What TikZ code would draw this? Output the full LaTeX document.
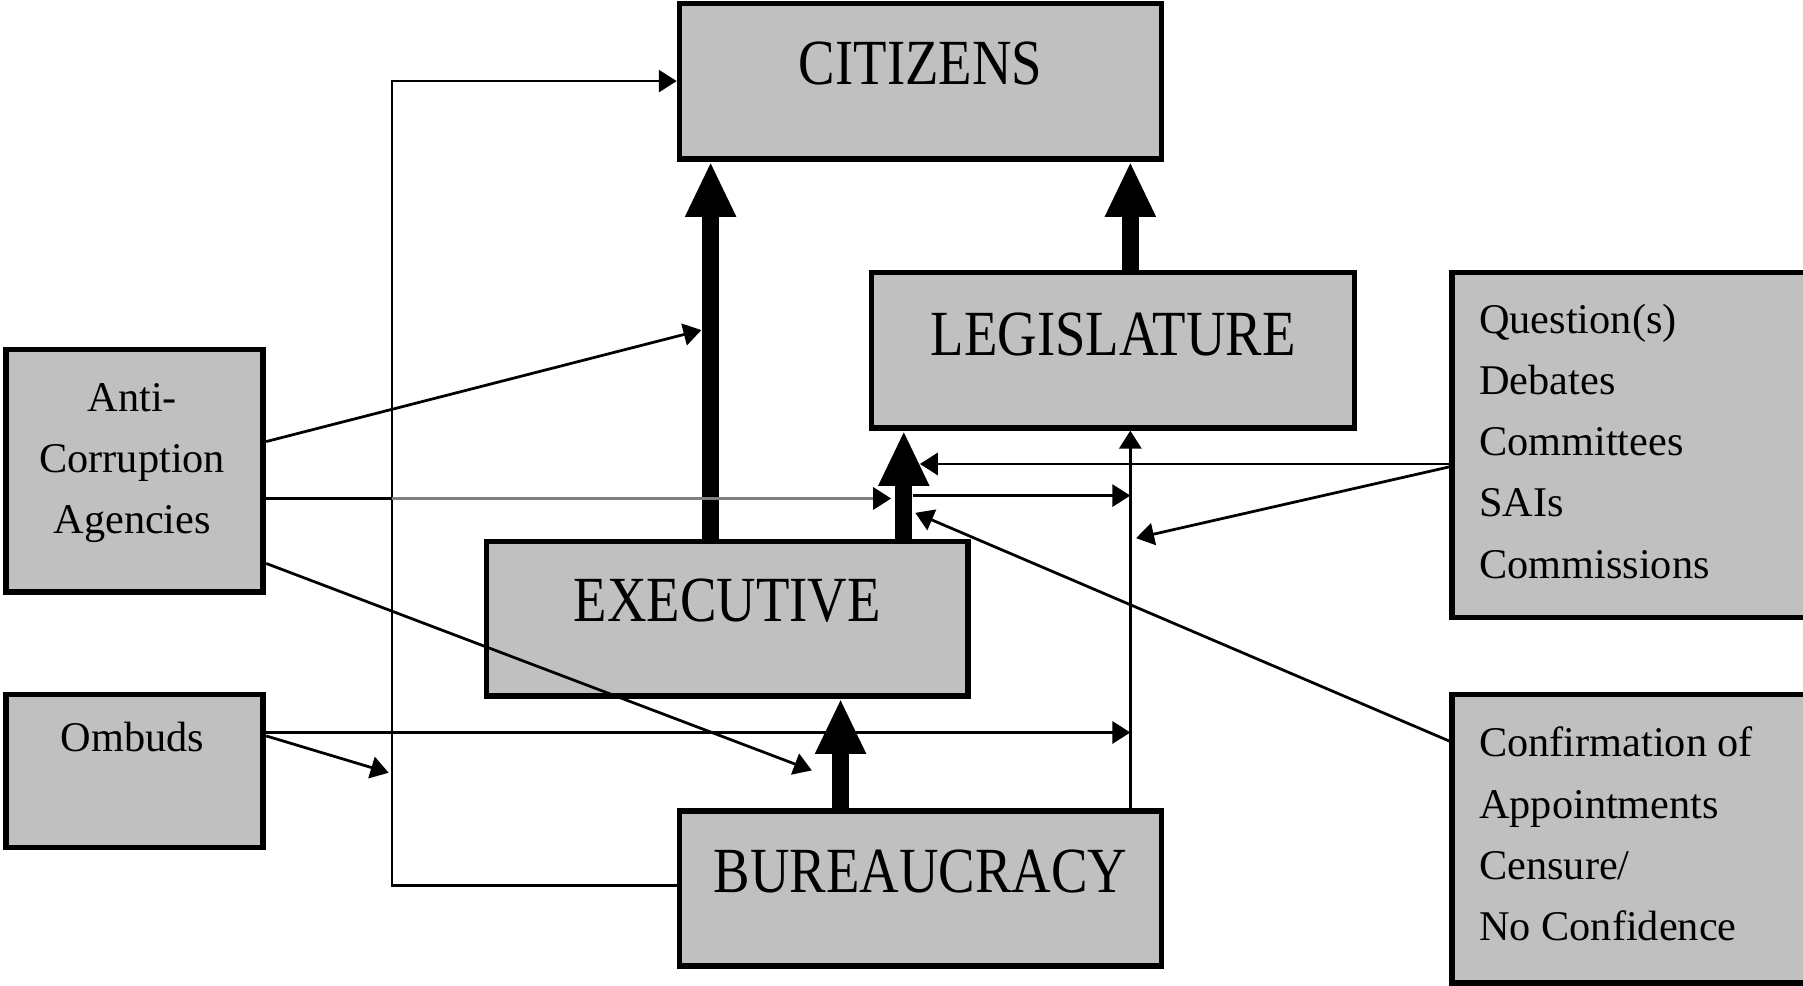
\documentclass[tikz,border=0pt]{standalone}
\usepackage{fontspec}
\setmainfont{Liberation Serif}
\newfontfamily\narrowfont[FakeStretch=0.85]{Liberation Serif}
\usetikzlibrary{arrows.meta,calc}
\definecolor{boxgray}{HTML}{C0C0C0}
\definecolor{linegray}{HTML}{808080}
\begin{document}
\begin{tikzpicture}[x=0.5pt,y=-0.5pt,
  box/.style={draw=black, line width=2.5pt, fill=boxgray, inner sep=0pt},
  bigtxt/.style={font=\narrowfont\fontsize{28}{30}\selectfont, inner sep=0pt},
  smalltxt/.style={font=\fontsize{18.4}{26.6}\selectfont, inner sep=0pt},
  thinline/.style={line width=1.2pt},
  thinarrow/.style={line width=1.2pt, -{Triangle[length=7.8pt,width=9.6pt]}},
  grayarrow/.style={line width=1.2pt, draw=linegray, -{Triangle[length=7.8pt,width=9.6pt,color=black]}},
  thickarrow/.style={line width=7.4pt, -{Triangle[length=24pt,width=20.4pt]}},
]
\fill[white] (0,0) rectangle (1568,857);
\clip (0,0) rectangle (1568,857);

% main boxes
\node[box, minimum width=209.5pt, minimum height=67.5pt] (cit) at (800.5,70.5) {};
\node[box, minimum width=210pt, minimum height=67.5pt] (leg) at (968,304.5) {};
\node[box, minimum width=209.5pt, minimum height=67pt] (exec) at (632.5,538) {};
\node[box, minimum width=209.5pt, minimum height=67.5pt] (bur) at (800.5,772.5) {};
\node[bigtxt] (citt) at ([yshift=7.75pt]cit.center) {CITIZENS};
\node[bigtxt] (legt) at ([yshift=7pt]leg.center) {LEGISLATURE};
\node[bigtxt] (exect) at ([yshift=8pt]exec.center) {EXECUTIVE};
\node[bigtxt] (burt) at ([yshift=7.5pt]bur.center) {BUREAUCRACY};

% side boxes
\node[box, minimum width=112pt, minimum height=105.5pt] (aca) at (117,409.5) {};
\node[box, minimum width=112pt, minimum height=66.5pt] (omb) at (117,670.5) {};
\node[box, minimum width=193.5pt, minimum height=150pt] (qbox) at (1456.5,387) {};
\node[box, minimum width=193.5pt, minimum height=125.5pt] (cbox) at (1456.5,729.5) {};
\node[smalltxt, anchor=north, align=center] (acat) at (115,333) {Anti-\\Corruption\\Agencies};
\node[smalltxt, anchor=north] (ombt) at (115,628) {Ombuds};
\node[smalltxt, anchor=north west, align=left] (qt) at (1286,264) {Question(s)\\Debates\\Committees\\SAIs\\Commissions};
\node[smalltxt, anchor=north west, align=left] (ct) at (1286,632) {Confirmation of\\Appointments\\Censure/\\No Confidence};

% helper coordinates
\coordinate (vl) at (341,770);
\coordinate (vr) at ([xshift=7.5pt]leg.south);
\coordinate (x1) at ([xshift=-7.25pt]exec.north);
\coordinate (x2) at ([xshift=7.5pt]leg.north);
\coordinate (x3) at ([xshift=76.75pt]exec.north);
\coordinate (x4) at ([xshift=-34.75pt]bur.north);
\coordinate (ta) at (610,287);
\coordinate (tb) at (775,433.5);
\coordinate (sc) at (794,431);
\coordinate (td) at (800,403.5);
\coordinate (te) at (988,468);
\coordinate (tf) at (796,446);
\coordinate (tg) at (706,670);
\coordinate (ti) at (338,672);
\coordinate (hs) at ([yshift=16.75pt]omb.east);

% thick arrows
\draw[thickarrow] (x1) -- (x1 |- cit.south);
\draw[thickarrow] (x2) -- (x2 |- cit.south);
\draw[thickarrow] (x3) -- (x3 |- leg.south);
\draw[thickarrow] (x4) -- (x4 |- exec.south);

% thin connectors
\draw[thinarrow] ([yshift=1.25pt]bur.west) -- (vl) |- (cit.west);
\draw[thinarrow] (vr |- bur.north) -- (vr);
\draw[thinarrow] ([yshift=12.75pt]aca.east) -- (ta);
\draw[thinline] (tb -| aca.east) -- (tb -| vl);
\draw[grayarrow] (tb -| vl) -- (tb);
\draw[thinarrow] (sc) -- (sc -| vr);
\draw[thinarrow] (td -| qbox.west) -- (td);
\draw[thinarrow] ([yshift=-9.5pt]qbox.west) -- (te);
\draw[thinarrow] ([yshift=-21.5pt]cbox.north west) -- (tf);
\draw[thinarrow] ([yshift=-40.25pt]aca.east) -- (tg);
\draw[thinarrow] (hs) -- (hs -| vr);
\draw[thinarrow] ([yshift=15.25pt]omb.east) -- (ti);
\end{tikzpicture}
\end{document}
